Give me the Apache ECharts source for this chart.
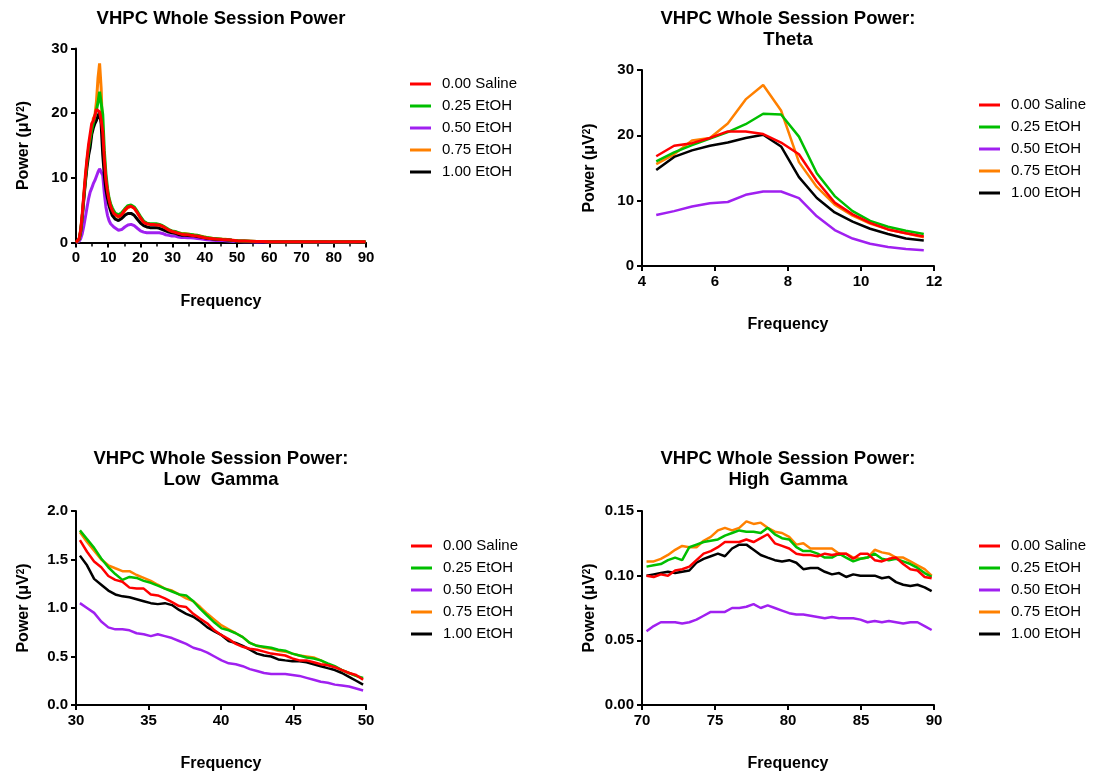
<!DOCTYPE html>
<html>
<head>
<meta charset="utf-8">
<title>VHPC Whole Session Power</title>
<script src="https://cdn.jsdelivr.net/npm/echarts@6/dist/echarts.min.js"></script>
<style>
  html, body { margin: 0; padding: 0; background: #ffffff; }
  #chart { width: 1101px; height: 780px; }
</style>
</head>
<body>
<div id="chart"></div>
<script>
// Dose groups, in legend order
const groups = ['0.00 Saline', '0.25 EtOH', '0.50 EtOH', '0.75 EtOH', '1.00 EtOH'];
const groupColors = ['#ff0000', '#00bf00', '#a020f0', '#ff8000', '#000000'];

// FFT bin frequencies (Hz) for each band
const deltaFreq = [0, 0.49, 0.98, 1.46, 1.95, 2.44, 2.93, 3.42, 3.91];
const thetaFreq = [4.39, 4.88, 5.37, 5.86, 6.35, 6.84, 7.32, 7.81, 8.30, 8.79, 9.28, 9.77, 10.25, 10.74, 11.23, 11.72];
const betaFreq = [12.21, 13.18, 14.16, 15.14, 16.11, 17.09, 18.07, 19.04, 20.02, 21.00, 21.97, 22.95, 23.93, 24.90, 25.88, 26.86, 27.83, 28.81, 29.79];
const lowGammaFreq = [30.27, 30.76, 31.25, 31.74, 32.23, 32.71, 33.20, 33.69, 34.18, 34.67, 35.16, 35.64, 36.13, 36.62, 37.11, 37.60, 38.09, 38.57, 39.06, 39.55, 40.04, 40.53, 41.02, 41.50, 41.99, 42.48, 42.97, 43.46, 43.95, 44.43, 44.92, 45.41, 45.90, 46.39, 46.88, 47.36, 47.85, 48.34, 48.83, 49.32, 49.80];
const midFreq = [50.29, 52.25, 54.20, 56.15, 58.11, 60.06, 62.01, 63.96, 65.92, 67.87, 69.82];
const highGammaFreq = [70.31, 70.80, 71.29, 71.78, 72.27, 72.75, 73.24, 73.73, 74.22, 74.71, 75.20, 75.68, 76.17, 76.66, 77.15, 77.64, 78.13, 78.61, 79.10, 79.59, 80.08, 80.57, 81.05, 81.54, 82.03, 82.52, 83.01, 83.50, 83.98, 84.47, 84.96, 85.45, 85.94, 86.43, 86.91, 87.40, 87.89, 88.38, 88.87, 89.36, 89.84];

// Power (µV²) per group, rows in the same order as `groups`
const deltaPower = [
  [0, 0.1, 0.6, 2.0, 4.5, 7.5, 10.5, 13.0, 15.2],
  [0, 0.1, 0.5, 1.8, 4.2, 7.2, 10.0, 12.6, 14.6],
  [0, 0.05, 0.2, 0.6, 1.4, 2.6, 4.0, 5.4, 6.8],
  [0, 0.1, 0.5, 1.8, 4.2, 7.0, 9.8, 12.3, 14.3],
  [0, 0.1, 0.5, 1.7, 4.0, 6.8, 9.4, 11.7, 13.5]
];
const thetaPower = [
  [16.8, 18.4, 18.8, 19.6, 20.6, 20.6, 20.2, 18.9, 17.1, 13.0, 9.7, 7.9, 6.6, 5.6, 5.0, 4.5],
  [16.0, 17.4, 18.5, 19.5, 20.5, 21.7, 23.3, 23.2, 19.8, 14.2, 10.7, 8.4, 6.9, 6.0, 5.4, 4.9],
  [7.8, 8.4, 9.1, 9.6, 9.8, 10.9, 11.4, 11.4, 10.4, 7.6, 5.5, 4.2, 3.4, 2.9, 2.6, 2.4],
  [15.6, 17.1, 19.2, 19.6, 21.8, 25.5, 27.7, 23.8, 15.9, 12.1, 9.4, 7.7, 6.5, 5.6, 5.0, 4.4],
  [14.7, 16.7, 17.7, 18.4, 18.9, 19.6, 20.1, 18.3, 13.6, 10.4, 8.2, 6.8, 5.7, 4.9, 4.2, 3.9]
];
const betaPower = [
  [4.2, 4.0, 4.3, 5.0, 5.5, 5.6, 5.3, 4.6, 3.8, 3.1, 2.9, 2.8, 2.8, 2.7, 2.7, 2.5, 2.2, 1.9, 1.7],
  [4.5, 4.3, 4.6, 5.2, 5.7, 5.8, 5.5, 4.8, 4.0, 3.3, 3.0, 2.9, 2.9, 2.9, 2.8, 2.6, 2.3, 2.0, 1.8],
  [2.1, 1.9, 2.0, 2.4, 2.7, 2.8, 2.6, 2.2, 1.8, 1.6, 1.5, 1.5, 1.5, 1.5, 1.5, 1.4, 1.2, 1.1, 1.0],
  [4.1, 3.9, 4.2, 4.9, 5.4, 5.6, 5.3, 4.6, 3.8, 3.1, 2.9, 2.8, 2.8, 2.7, 2.7, 2.5, 2.2, 1.9, 1.75],
  [3.6, 3.4, 3.7, 4.2, 4.5, 4.5, 4.2, 3.6, 3.0, 2.6, 2.4, 2.3, 2.3, 2.3, 2.2, 2.0, 1.8, 1.6, 1.5]
];
const lowGammaPower = [
  [1.70, 1.58, 1.48, 1.42, 1.33, 1.29, 1.27, 1.21, 1.20, 1.20, 1.14, 1.13, 1.10, 1.06, 1.02, 1.01, 0.94, 0.89, 0.84, 0.77, 0.72, 0.68, 0.63, 0.60, 0.58, 0.57, 0.55, 0.53, 0.52, 0.51, 0.48, 0.46, 0.46, 0.44, 0.42, 0.41, 0.39, 0.36, 0.33, 0.31, 0.26],
  [1.80, 1.71, 1.62, 1.51, 1.42, 1.35, 1.29, 1.32, 1.31, 1.28, 1.26, 1.23, 1.20, 1.17, 1.14, 1.13, 1.07, 0.99, 0.92, 0.85, 0.79, 0.77, 0.74, 0.70, 0.64, 0.61, 0.60, 0.59, 0.57, 0.56, 0.53, 0.51, 0.49, 0.48, 0.46, 0.43, 0.40, 0.36, 0.33, 0.30, 0.28],
  [1.05, 1.00, 0.95, 0.86, 0.80, 0.78, 0.78, 0.77, 0.74, 0.73, 0.71, 0.73, 0.71, 0.69, 0.66, 0.63, 0.59, 0.57, 0.54, 0.50, 0.46, 0.43, 0.42, 0.40, 0.37, 0.35, 0.33, 0.32, 0.32, 0.32, 0.31, 0.30, 0.28, 0.26, 0.24, 0.23, 0.21, 0.20, 0.19, 0.17, 0.15],
  [1.78, 1.68, 1.59, 1.50, 1.44, 1.41, 1.38, 1.38, 1.34, 1.31, 1.28, 1.24, 1.20, 1.18, 1.14, 1.10, 1.07, 1.01, 0.94, 0.88, 0.82, 0.78, 0.74, 0.70, 0.64, 0.61, 0.59, 0.58, 0.56, 0.55, 0.53, 0.51, 0.50, 0.49, 0.46, 0.42, 0.39, 0.36, 0.33, 0.30, 0.27],
  [1.54, 1.44, 1.30, 1.24, 1.18, 1.14, 1.12, 1.11, 1.09, 1.07, 1.05, 1.04, 1.05, 1.03, 0.98, 0.94, 0.91, 0.86, 0.80, 0.76, 0.72, 0.66, 0.64, 0.61, 0.57, 0.53, 0.51, 0.50, 0.47, 0.46, 0.45, 0.45, 0.44, 0.42, 0.40, 0.38, 0.36, 0.33, 0.29, 0.25, 0.21]
];
const midPower = [
  [0.25, 0.22, 0.19, 0.16, 0.14, 0.12, 0.12, 0.11, 0.11, 0.10, 0.10],
  [0.26, 0.23, 0.20, 0.17, 0.15, 0.13, 0.12, 0.12, 0.11, 0.11, 0.11],
  [0.14, 0.12, 0.10, 0.09, 0.08, 0.07, 0.07, 0.06, 0.06, 0.06, 0.06],
  [0.26, 0.23, 0.20, 0.17, 0.15, 0.13, 0.12, 0.12, 0.11, 0.11, 0.11],
  [0.20, 0.18, 0.16, 0.14, 0.12, 0.11, 0.10, 0.10, 0.10, 0.10, 0.10]
];
const highGammaPower = [
  [0.100, 0.099, 0.101, 0.100, 0.104, 0.105, 0.107, 0.112, 0.117, 0.119, 0.122, 0.126, 0.126, 0.126, 0.128, 0.126, 0.129, 0.132, 0.125, 0.123, 0.121, 0.117, 0.116, 0.116, 0.115, 0.117, 0.116, 0.117, 0.117, 0.113, 0.117, 0.117, 0.112, 0.111, 0.113, 0.114, 0.109, 0.105, 0.104, 0.099, 0.098],
  [0.107, 0.108, 0.109, 0.112, 0.114, 0.112, 0.122, 0.124, 0.126, 0.127, 0.128, 0.131, 0.133, 0.135, 0.134, 0.134, 0.133, 0.137, 0.132, 0.129, 0.128, 0.122, 0.119, 0.119, 0.117, 0.114, 0.114, 0.117, 0.114, 0.111, 0.113, 0.114, 0.117, 0.113, 0.112, 0.113, 0.111, 0.109, 0.106, 0.102, 0.099],
  [0.057, 0.061, 0.064, 0.064, 0.064, 0.063, 0.064, 0.066, 0.069, 0.072, 0.072, 0.072, 0.075, 0.075, 0.076, 0.078, 0.075, 0.077, 0.075, 0.073, 0.071, 0.070, 0.070, 0.069, 0.068, 0.067, 0.068, 0.067, 0.067, 0.067, 0.066, 0.064, 0.065, 0.064, 0.065, 0.064, 0.063, 0.064, 0.064, 0.061, 0.058],
  [0.111, 0.111, 0.113, 0.116, 0.120, 0.123, 0.122, 0.122, 0.127, 0.130, 0.135, 0.137, 0.135, 0.137, 0.142, 0.140, 0.141, 0.137, 0.134, 0.133, 0.130, 0.124, 0.125, 0.121, 0.121, 0.121, 0.121, 0.117, 0.117, 0.114, 0.113, 0.114, 0.120, 0.118, 0.117, 0.114, 0.114, 0.111, 0.108, 0.105, 0.100],
  [0.100, 0.101, 0.102, 0.103, 0.102, 0.103, 0.104, 0.110, 0.113, 0.115, 0.117, 0.115, 0.121, 0.124, 0.124, 0.120, 0.116, 0.114, 0.112, 0.111, 0.112, 0.110, 0.105, 0.106, 0.106, 0.103, 0.101, 0.102, 0.099, 0.101, 0.100, 0.100, 0.100, 0.098, 0.099, 0.095, 0.093, 0.092, 0.093, 0.091, 0.088]
];

// Panel titles and axis tick settings
const panelTitles = [
  'VHPC Whole Session Power',
  'VHPC Whole Session Power:\nTheta',
  'VHPC Whole Session Power:\nLow  Gamma',
  'VHPC Whole Session Power:\nHigh  Gamma'
];
const xRanges = [[0, 90, 10], [4, 12, 2], [30, 50, 5], [70, 90, 5]];
const yRanges = [[0, 30, 10], [0, 30, 10], [0, 2, 0.5], [0, 0.15, 0.05]];
const yDecimals = [0, 0, 1, 2];

const FONT = '"Liberation Sans", Arial, Helvetica, sans-serif';

// Plot-area boxes and legend anchors for the 2x2 layout
const grids = [
  { left: 76, top: 48.5, width: 290, height: 194 },
  { left: 642, top: 70, width: 292, height: 196 },
  { left: 76, top: 511, width: 290, height: 194 },
  { left: 642, top: 511, width: 292, height: 194 }
];
const legendPos = [
  { left: 410, top: 75 },
  { left: 979, top: 96 },
  { left: 411, top: 537 },
  { left: 979, top: 537 }
];
const titlePos = [
  { x: 221, y: 8.5 },
  { x: 788, y: 8.5 },
  { x: 221, y: 448.5 },
  { x: 788, y: 448.5 }
];

function pairs(freqs, vals) {
  return freqs.map(function (f, i) { return [f, vals[i]]; });
}

function panelData(panel, g) {
  if (panel === 0) {
    return [].concat(
      pairs(deltaFreq, deltaPower[g]),
      pairs(thetaFreq, thetaPower[g]),
      pairs(betaFreq, betaPower[g]),
      pairs(lowGammaFreq, lowGammaPower[g]),
      pairs(midFreq, midPower[g]),
      pairs(highGammaFreq, highGammaPower[g])
    );
  }
  if (panel === 1) return pairs(thetaFreq, thetaPower[g]);
  if (panel === 2) return pairs(lowGammaFreq, lowGammaPower[g]);
  return pairs(highGammaFreq, highGammaPower[g]);
}

// Saline is drawn last so it sits on top
const drawOrder = [2, 3, 4, 1, 0];

const xAxes = [], yAxes = [], series = [], legends = [], titles = [];

for (let p = 0; p < 4; p++) {
  xAxes.push({
    gridIndex: p,
    type: 'value',
    min: xRanges[p][0], max: xRanges[p][1], interval: xRanges[p][2],
    name: 'Frequency',
    nameLocation: 'middle',
    nameGap: 51,
    nameTextStyle: { fontFamily: FONT, fontSize: 16, fontWeight: 'bold', color: '#000' },
    axisLine: { show: true, onZero: false, lineStyle: { color: '#000', width: 2 } },
    axisTick: { show: true, inside: false, length: 5, lineStyle: { color: '#000', width: 2 } },
    minorTick: { show: p === 0, splitNumber: 2, length: 4, lineStyle: { color: '#000', width: 1.5 } },
    axisLabel: { fontFamily: FONT, fontSize: 15, fontWeight: 'bold', color: '#000', margin: 8 },
    splitLine: { show: false }
  });
  const dec = yDecimals[p];
  yAxes.push({
    gridIndex: p,
    type: 'value',
    min: yRanges[p][0], max: yRanges[p][1], interval: yRanges[p][2],
    name: 'Power (μV{sup|2})',
    nameLocation: 'middle',
    nameGap: 44,
    nameRotate: 90,
    nameTextStyle: {
      fontFamily: FONT, fontSize: 16, fontWeight: 'bold', color: '#000',
      rich: {
        sup: { fontFamily: FONT, fontSize: 10, fontWeight: 'bold', color: '#000', verticalAlign: 'top', lineHeight: 12 }
      }
    },
    axisLine: { show: true, onZero: false, lineStyle: { color: '#000', width: 2 } },
    axisTick: { show: true, inside: false, length: 5, lineStyle: { color: '#000', width: 2 } },
    axisLabel: {
      fontFamily: FONT, fontSize: 15, fontWeight: 'bold', color: '#000', margin: 8,
      formatter: function (v) { return v.toFixed(dec); }
    },
    splitLine: { show: false }
  });
  drawOrder.forEach(function (g) {
    series.push({
      name: groups[g],
      type: 'line',
      xAxisIndex: p,
      yAxisIndex: p,
      data: panelData(p, g),
      symbol: 'none',
      showSymbol: false,
      smooth: false,
      animation: false,
      itemStyle: { color: groupColors[g] },
      lineStyle: { color: groupColors[g], width: p === 0 ? 3 : 2.5 }
    });
  });
  legends.push({
    orient: 'vertical',
    left: legendPos[p].left,
    top: legendPos[p].top,
    padding: 0,
    itemGap: 4,
    itemWidth: 21,
    itemHeight: 3,
    icon: 'rect',
    selectedMode: false,
    data: groups,
    textStyle: { fontFamily: FONT, fontSize: 15, color: '#000', lineHeight: 18, padding: [0, 0, 0, 6] }
  });
  titles.push({
    text: panelTitles[p],
    left: titlePos[p].x,
    top: titlePos[p].y,
    textAlign: 'center',
    padding: 0,
    textStyle: { fontFamily: FONT, fontSize: 18.5, fontWeight: 'bold', color: '#000', lineHeight: 21 }
  });
}

const chart = echarts.init(document.getElementById('chart'), null, { renderer: 'canvas' });
chart.setOption({
  backgroundColor: '#ffffff',
  animation: false,
  title: titles,
  legend: legends,
  grid: grids,
  xAxis: xAxes,
  yAxis: yAxes,
  series: series
});
</script>
</body>
</html>
